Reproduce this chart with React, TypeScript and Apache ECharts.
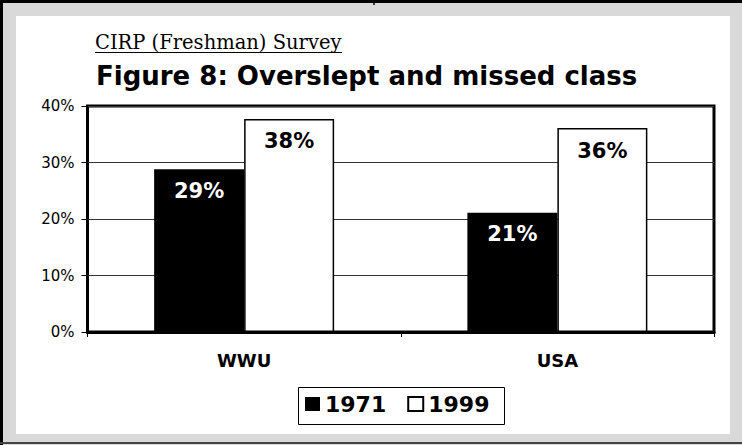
import React, { useEffect, useRef } from "react";
import * as echarts from "echarts";

const categories = ["WWU", "USA"];
const seriesNames = ["1971", "1999"];
const values1971 = [28.8, 21.1];
const values1999 = [37.7, 36.1];
const yTicks = [0, 10, 20, 30, 40];

export default function App() {
  const ref = useRef<HTMLDivElement>(null);

  useEffect(() => {
    document.body.style.margin = "0";
    if (!ref.current) return;
    const chart = echarts.init(ref.current, null, { renderer: "svg" });
    const sans = "DejaVu Sans";
    chart.setOption({
      animation: false,
      backgroundColor: "#d9d9d9",
      graphic: [
        { type: "rect", z: -10, shape: { x: 0, y: 0, width: 742, height: 3 }, style: { fill: "#000" } },
        { type: "rect", z: -10, shape: { x: 0, y: 0, width: 3, height: 445 }, style: { fill: "#000" } },
        { type: "rect", z: -10, shape: { x: 0, y: 442, width: 742, height: 2 }, style: { fill: "#444" } },
        { type: "line", z: -10, shape: { x1: 374, y1: 0, x2: 374, y2: 5 }, style: { stroke: "#000", lineWidth: 1.5 } },
        { type: "rect", z: -9, shape: { x: 16, y: 16, width: 714, height: 418 }, style: { fill: "#fff" } },
        {
          type: "text",
          z: 5,
          x: 95,
          y: 42,
          style: {
            text: "CIRP (Freshman) Survey",
            font: "19.5px 'DejaVu Serif'",
            fill: "#000",
            align: "left",
            verticalAlign: "middle",
          },
        },
        { type: "line", z: 5, shape: { x1: 95, y1: 52.5, x2: 342, y2: 52.5 }, style: { stroke: "#000", lineWidth: 1 } },
        {
          type: "text",
          z: 5,
          x: 96,
          y: 76,
          style: {
            text: "Figure 8: Overslept and missed class",
            font: "bold 26px 'DejaVu Sans'",
            fill: "#000",
            align: "left",
            verticalAlign: "middle",
          },
        },
        {
          type: "rect",
          z: -5,
          shape: { x: 298.5, y: 387.5, width: 206, height: 37 },
          style: { fill: "#fff", stroke: "#000", lineWidth: 1 },
        },
      ],
      grid: {
        left: 87.5,
        right: 28,
        top: 106,
        bottom: 113,
        show: true,
        borderColor: "#000",
        borderWidth: 3,
        backgroundColor: "transparent",
      },
      legend: {
        data: seriesNames,
        left: 305,
        top: 393,
        padding: 0,
        itemWidth: 15,
        itemHeight: 14,
        itemGap: 21,
        icon: "rect",
        textStyle: { fontFamily: sans, fontSize: 22, fontWeight: "bold", color: "#000" },
      },
      xAxis: {
        type: "category",
        data: categories,
        axisLine: { show: true, lineStyle: { color: "#000", width: 3 } },
        axisTick: { show: true, length: 5, lineStyle: { color: "#000", width: 1 } },
        axisLabel: { margin: 19, fontFamily: sans, fontSize: 18, fontWeight: "bold", color: "#000" },
      },
      yAxis: {
        type: "value",
        min: yTicks[0],
        max: yTicks[yTicks.length - 1],
        interval: 10,
        axisLine: { show: false },
        axisTick: { show: true, length: 6, lineStyle: { color: "#000", width: 1 } },
        axisLabel: {
          margin: 13,
          fontFamily: sans,
          fontSize: 15,
          color: "#000",
          formatter: (v: number) => v + "%",
        },
        splitLine: { show: true, lineStyle: { color: "#333", width: 1 } },
      },
      series: [
        {
          name: seriesNames[0],
          type: "bar",
          data: values1971,
          barWidth: 90,
          barGap: "0%",
          itemStyle: { color: "#000" },
          label: {
            show: true,
            position: "insideTop",
            distance: 11,
            fontFamily: sans,
            fontSize: 21,
            fontWeight: "bold",
            color: "#fff",
            formatter: (p: any) => Math.round(p.value) + "%",
          },
        },
        {
          name: seriesNames[1],
          type: "bar",
          data: values1999,
          barWidth: 90,
          barGap: "0%",
          itemStyle: { color: "#fff", borderColor: "#000", borderWidth: 1.5 },
          label: {
            show: true,
            position: "insideTop",
            distance: 12,
            fontFamily: sans,
            fontSize: 21,
            fontWeight: "bold",
            color: "#000",
            formatter: (p: any) => Math.round(p.value) + "%",
          },
        },
      ],
    });
    return () => chart.dispose();
  }, []);

  return <div ref={ref} style={{ width: 742, height: 445 }} />;
}
